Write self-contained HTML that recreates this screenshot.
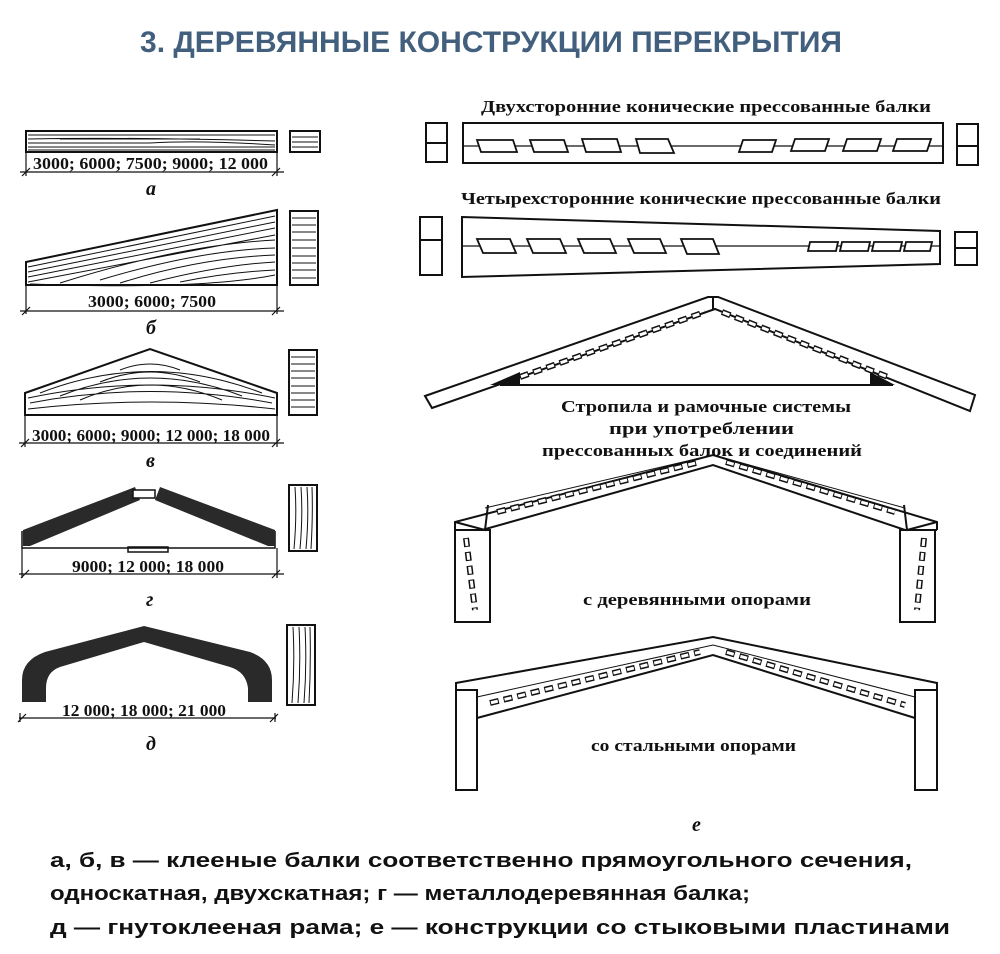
<!DOCTYPE html>
<html><head><meta charset="utf-8"><style>
html,body{margin:0;padding:0;background:#fff;}
svg{display:block;}
.t{font-family:"Liberation Serif","Noto Serif CJK SC",serif;font-size:17px;fill:#111;font-weight:bold;}
.d{font-family:"Liberation Serif",serif;font-size:17px;fill:#111;font-weight:bold;}
.l{font-family:"Liberation Serif",serif;font-size:20px;font-style:italic;font-weight:bold;fill:#111;}
.b{font-family:"Liberation Sans","DejaVu Sans",sans-serif;font-size:20px;font-weight:bold;fill:#111;}
</style></head><body>
<svg width="1000" height="954" viewBox="0 0 1000 954" xmlns="http://www.w3.org/2000/svg">
<text x="140" y="52" textLength="702" lengthAdjust="spacingAndGlyphs" style="font-family:'Liberation Sans',sans-serif;font-weight:bold;font-size:30px;fill:#42607e">3. ДЕРЕВЯННЫЕ КОНСТРУКЦИИ ПЕРЕКРЫТИЯ</text>

<g fill="none" stroke="#111" stroke-width="1.5">
<!-- a -->
<rect x="26" y="131" width="251" height="21" stroke-width="2"/>
<path d="M28 135H275M28 139Q120 137 275 141M28 143H150Q200 140 275 145M28 147H275M60 139H200M28 150H275" stroke-width="1"/>
<path d="M26 152V176M277 152V176M20 172H284M22 176L30 168M272 176L280 168" stroke-width="1.2"/>
<rect x="290" y="131" width="30" height="21" stroke-width="2"/>
<path d="M292 137H318M292 142H318M292 147H318" stroke-width="1"/>
<!-- б -->
<path d="M26 262L277 210V285H26Z" stroke-width="2"/>
<path d="M28 267L275 216M28 272L275 222M28 277L275 228M28 282L275 235M100 280Q200 250 275 248M150 283Q220 265 275 262M30 284Q200 290 275 275M180 282Q230 272 275 270M60 283Q180 245 275 240M120 283Q200 258 275 255" stroke-width="1"/>
<path d="M26 285V314M277 285V314M20 311H284M22 315L30 307M272 315L280 307" stroke-width="1.2"/>
<rect x="290" y="211" width="28" height="74" stroke-width="2"/>
<path d="M292 218H316M292 225H316M292 232H316M292 240H316M292 248H316M292 256H316M292 263H316M292 270H316M292 278H316" stroke-width="1"/>
<!-- в -->
<path d="M25 393L150 349L277 393V415H25Z" stroke-width="2"/>
<path d="M40 393Q150 350 262 393M60 396Q150 360 242 396M80 400Q150 370 222 400M30 403Q150 380 272 403M28 409Q150 395 275 409M100 382Q150 362 200 382M120 370Q150 358 180 370M28 398Q150 372 275 398" stroke-width="1"/>
<path d="M25 415V447M277 415V447M19 443H284M21 447L29 439M272 447L280 439" stroke-width="1.2"/>
<rect x="289" y="350" width="28" height="65" stroke-width="2"/>
<path d="M291 357H315M291 364H315M291 371H315M291 378H315M291 386H315M291 393H315M291 400H315M291 407H315" stroke-width="1"/>
<!-- г -->
<path d="M22 531L22 548H275V531" stroke-width="1.5"/>
<path d="M19 574H284M22 548V578M277 548V578M21 578L29 570M272 578L280 570" stroke-width="1.2"/>
<rect x="128" y="547" width="40" height="5" stroke-width="1.5"/>
<rect x="289" y="485" width="28" height="66" stroke-width="2"/>
<path d="M295 487Q297 515 294 549M301 487Q303 515 300 549M307 487Q309 515 306 549M312 487Q313 515 311 549" stroke-width="1"/>
<!-- д -->
<path d="M19 718H276M20 713V722M275 713V722M18 722L26 714M270 722L278 714" stroke-width="1.2"/>
<rect x="287" y="625" width="28" height="80" stroke-width="2"/>
<path d="M293 627Q295 665 292 703M299 627Q301 665 298 703M305 627Q307 665 304 703M310 627Q311 665 309 703" stroke-width="1"/>
</g>
<polygon points="23,530 135,487 140,500 30,546 23,546" fill="#2a2a2a"/>
<polygon points="160,487 275,530 275,546 268,546 155,500" fill="#2a2a2a"/>
<rect x="133" y="490" width="22" height="8" fill="#fff" stroke="#111" stroke-width="1.5"/>
<path d="M22 702V680Q22 660 45 652L144 626L250 652Q272 660 272 680V702H248V688Q246 672 230 667L144 642L60 667Q46 672 46 688V702Z" fill="#2a2a2a"/>
<text class="d" x="33" y="169" textLength="235" lengthAdjust="spacingAndGlyphs">3000; 6000; 7500; 9000; 12 000</text>
<text class="l" x="146" y="195">а</text>
<text class="d" x="88" y="307" textLength="128" lengthAdjust="spacingAndGlyphs">3000; 6000; 7500</text>
<text class="l" x="146" y="334">б</text>
<text class="d" x="32" y="441" textLength="238" lengthAdjust="spacingAndGlyphs">3000; 6000; 9000; 12 000; 18 000</text>
<text class="l" x="146" y="467">в</text>
<text class="d" x="72" y="572" textLength="152" lengthAdjust="spacingAndGlyphs">9000; 12 000; 18 000</text>
<text class="l" x="146" y="606">г</text>
<text class="d" x="62" y="716" textLength="164" lengthAdjust="spacingAndGlyphs">12 000; 18 000; 21 000</text>
<text class="l" x="146" y="750">д</text>

<text class="t" x="481" y="112" textLength="450" lengthAdjust="spacingAndGlyphs">Двухсторонние конические прессованные балки</text>
<g fill="none" stroke="#111" stroke-width="2">
<rect x="463" y="123" width="480" height="40"/>
<rect x="426" y="123" width="21" height="39"/><path d="M426 143H447"/>
<rect x="957" y="124" width="21" height="41"/><path d="M957 146H978"/>
<path d="M463 146H943" stroke-width="1.2"/>
</g>
<g fill="#fff" stroke="#111" stroke-width="1.8">
<polygon points="477,140 513,140 517,152 481,152"/><polygon points="530,140 564,140 568,152 534,152"/><polygon points="582,139 617,139 621,152 586,152"/><polygon points="636,139 668,139 674,153 640,153"/>
<polygon points="743,140 776,140 772,152 739,152"/><polygon points="795,139 829,139 825,151 791,151"/><polygon points="847,139 881,139 877,151 843,151"/><polygon points="897,139 931,139 927,151 893,151"/>
</g>
<text class="t" x="461" y="204" textLength="480" lengthAdjust="spacingAndGlyphs">Четырехсторонние конические прессованные балки</text>
<g fill="none" stroke="#111" stroke-width="2">
<polygon points="462,217 940,231 940,264 462,277"/>
<rect x="420" y="217" width="22" height="58"/><path d="M420 240H442"/>
<rect x="955" y="232" width="22" height="33"/><path d="M955 248H977"/>
<path d="M462 246H940" stroke-width="1.2"/>
</g>
<g fill="#fff" stroke="#111" stroke-width="1.8">
<polygon points="477,239 510,239 516,253 483,253"/><polygon points="527,239 560,239 566,253 533,253"/><polygon points="578,239 610,239 616,253 584,253"/><polygon points="628,239 660,239 666,253 634,253"/><polygon points="681,239 713,239 719,254 687,254"/>
<polygon points="810,242 838,242 836,251 808,251"/><polygon points="842,242 870,242 868,251 840,251"/><polygon points="874,242 902,242 900,251 872,251"/><polygon points="906,242 932,242 930,251 904,251"/>
</g>
<g fill="none" stroke="#111" stroke-width="2">
<path d="M425 396L708 297L718 297L975 395L970 411L715 309L432 408Z"/>
<path d="M713 297V309"/>
<path d="M500 385H893"/>
</g>
<path d="M490 385L520 372L520 385Z M895 385L870 372L870 385Z" fill="#111"/>
<g fill="none">
<path d="M520 377L705 312M722 312L888 377" stroke="#111" stroke-width="6" stroke-dasharray="9 5"/>
<path d="M520 377L705 312M722 312L888 377" stroke="#fff" stroke-width="3" stroke-dasharray="7 7" stroke-dashoffset="-1"/>
</g>
<text class="t" x="561" y="412" textLength="290" lengthAdjust="spacingAndGlyphs">Стропила и рамочные системы</text>
<text class="t" x="609" y="434" textLength="185" lengthAdjust="spacingAndGlyphs">при употреблении</text>
<text class="t" x="542" y="456" textLength="320" lengthAdjust="spacingAndGlyphs">прессованных балок и соединений</text>

<g fill="none" stroke="#111" stroke-width="2">
<path d="M455 530V622H490V530Z"/>
<path d="M900 530V622H935V530Z"/>
<path d="M455 530V522L713 455L937 522V530"/>
<path d="M455 530L482 530L713 465L905 530L937 530"/>
<path d="M455 522L485 530L488 505M937 522L907 530L904 505"/>
<path d="M485 508L713 455M905 508L713 455" stroke-width="1"/>
</g>
<g fill="none">
<path d="M497 512L700 462M726 462L895 512M466 538L475 610M924 538L917 610" stroke="#111" stroke-width="6" stroke-dasharray="9 5"/>
<path d="M497 512L700 462M726 462L895 512M466 538L475 610M924 538L917 610" stroke="#fff" stroke-width="3" stroke-dasharray="7 7" stroke-dashoffset="-1"/>
</g>
<text class="t" x="583" y="605" textLength="228" lengthAdjust="spacingAndGlyphs">с деревянными опорами</text>

<g fill="none" stroke="#111" stroke-width="2">
<path d="M456 690V790H477V690Z"/>
<path d="M915 690V790H937V690Z"/>
<path d="M456 690V683L713 637L937 683V690"/>
<path d="M477 718L713 655L915 718"/>
<path d="M477 697L713 645L915 697" stroke-width="1"/>
</g>
<g fill="none">
<path d="M490 703L700 652M726 652L905 705" stroke="#111" stroke-width="6" stroke-dasharray="9 5"/>
<path d="M490 703L700 652M726 652L905 705" stroke="#fff" stroke-width="3" stroke-dasharray="7 7" stroke-dashoffset="-1"/>
</g>
<text class="t" x="591" y="751" textLength="205" lengthAdjust="spacingAndGlyphs">со стальными опорами</text>
<text class="l" x="692" y="831">е</text>

<text class="b" x="50" y="867" textLength="862" lengthAdjust="spacingAndGlyphs">а, б, в — клееные балки соответственно прямоугольного сечения,</text>
<text class="b" x="50" y="900" textLength="700" lengthAdjust="spacingAndGlyphs">односкатная, двухскатная; г — металлодеревянная балка;</text>
<text class="b" x="50" y="934" textLength="900" lengthAdjust="spacingAndGlyphs">д — гнутоклееная рама; е — конструкции со стыковыми пластинами</text>
</svg>
</body></html>
